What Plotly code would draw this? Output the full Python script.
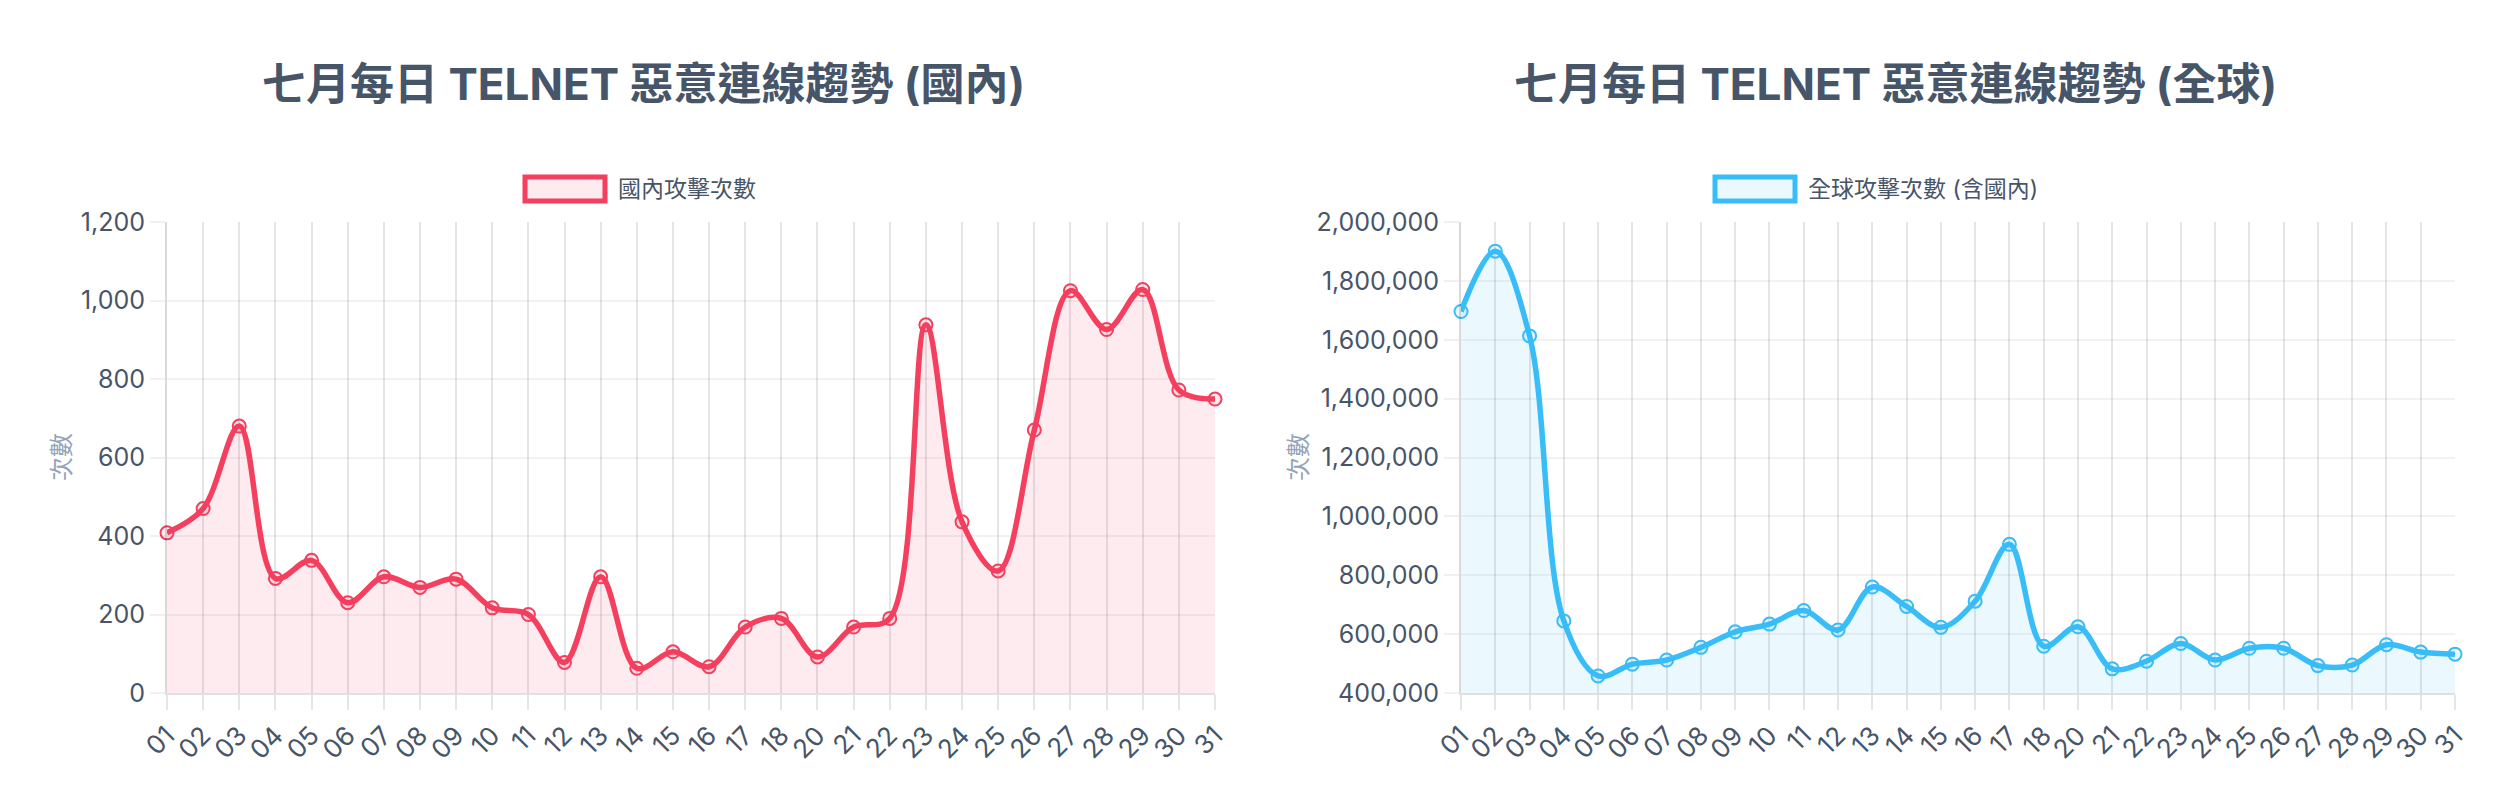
import plotly.graph_objects as go

days = ["01", "02", "03", "04", "05", "06", "07", "08", "09", "10",
        "11", "12", "13", "14", "15", "16", "17", "18", "20", "21",
        "22", "23", "24", "25", "26", "27", "28", "29", "30", "31"]

domestic = [408, 470, 680, 292, 338, 230, 296, 269, 290, 217,
            200, 78, 296, 63, 105, 67, 168, 190, 92, 168,
            190, 938, 436, 311, 670, 1025, 926, 1028, 772, 749]

global_total = [1696000, 1901000, 1613000, 645000, 458000, 498000, 512000, 555000, 608000, 634000,
                680000, 614000, 760000, 694000, 623000, 712000, 905000, 559000, 625000, 482000,
                508000, 568000, 512000, 552000, 552000, 493000, 495000, 564000, 539000, 532000]

title_left = "七月每日 TELNET 惡意連線趨勢 (國內)"
title_right = "七月每日 TELNET 惡意連線趨勢 (全球)"
legend_left = "國內攻擊次數"
legend_right = "全球攻擊次數 (含國內)"
y_title = "次數"

RED = "rgb(244,63,94)"
RED_FILL = "rgba(244,63,94,0.10)"
BLUE = "rgb(56,189,248)"
BLUE_FILL = "rgba(56,189,248,0.10)"
TEXT = "#475569"
MUTED = "#94a3b8"
FONT = "Inter, 'Noto Sans CJK TC', sans-serif"

W, H = 2520, 800

def px(x):
    return x / W

def py(y):
    return 1 - y / H

fig = go.Figure()

fig.add_trace(go.Scatter(
    x=days, y=domestic, xaxis="x", yaxis="y",
    mode="lines+markers", line=dict(color=RED, width=5.5, shape="spline", smoothing=1.0),
    marker=dict(size=13, color=RED_FILL, line=dict(color=RED, width=2)),
    fill="tozeroy", fillcolor=RED_FILL, cliponaxis=False, showlegend=False,
))
fig.add_trace(go.Scatter(
    x=days, y=global_total, xaxis="x2", yaxis="y2",
    mode="lines+markers", line=dict(color=BLUE, width=5.5, shape="spline", smoothing=1.0),
    marker=dict(size=13, color=BLUE_FILL, line=dict(color=BLUE, width=2)),
    fill="tozeroy", fillcolor=BLUE_FILL, cliponaxis=False, showlegend=False,
))

xcommon = dict(
    type="category", range=[0, len(days) - 1], automargin=False,
    showgrid=True, gridcolor="rgba(0,0,0,0.10)",
    gridwidth=1.5, showline=True, linecolor="rgba(0,0,0,0.12)", linewidth=2,
    ticks="outside", ticklen=15, tickcolor="rgba(0,0,0,0.10)", tickwidth=1.5,
    tickangle=-45, tickfont=dict(family=FONT, size=26, color=TEXT), zeroline=False,
)
ycommon = dict(
    automargin=False,
    showgrid=True, gridcolor="rgba(0,0,0,0.05)", gridwidth=2,
    showline=True, linecolor="rgba(0,0,0,0.15)", linewidth=2,
    ticks="outside", ticklen=15, tickcolor="rgba(0,0,0,0.06)", tickwidth=2,
    tickformat=",", tickfont=dict(family=FONT, size=25, color=TEXT), zeroline=False,
)

fig.update_layout(
    width=W, height=H, margin=dict(l=0, r=0, t=0, b=0, autoexpand=False),
    paper_bgcolor="white", plot_bgcolor="white",
    font=dict(family=FONT, color=TEXT),
    showlegend=False,
    xaxis=dict(domain=[px(167), px(1215)], anchor="y", **xcommon),
    yaxis=dict(domain=[py(693), py(222)], anchor="x", range=[0, 1200], dtick=200, **ycommon),
    xaxis2=dict(domain=[px(1461), px(2455)], anchor="y2", **xcommon),
    yaxis2=dict(domain=[py(693), py(222)], anchor="x2", range=[400000, 2000000], dtick=200000, **ycommon),
)

annotations = []
for cx, t in [(643, title_left), (1895, title_right)]:
    annotations.append(dict(x=px(cx), y=py(84), xref="paper", yref="paper", text=f"<b>{t}</b>",
                            showarrow=False, xanchor="center", yanchor="middle",
                            font=dict(family=FONT, size=44, color=TEXT, weight=900)))
for cx, t in [(61, y_title), (1298, y_title)]:
    annotations.append(dict(x=px(cx), y=py(457), xref="paper", yref="paper", text=t, textangle=-90,
                            showarrow=False, xanchor="center", yanchor="middle",
                            font=dict(family=FONT, size=24, color=MUTED)))

shapes = []
for (bx0, bx1, tx, t, col, fillc) in [(525, 605, 616, legend_left, RED, RED_FILL),
                                        (1715, 1795, 1806, legend_right, BLUE, BLUE_FILL)]:
    shapes.append(dict(type="rect", xref="paper", yref="paper", x0=px(bx0), x1=px(bx1),
                       y0=py(201), y1=py(177), line=dict(color=col, width=5), fillcolor=fillc))
    annotations.append(dict(x=px(tx), y=py(189), xref="paper", yref="paper", text=t,
                            showarrow=False, xanchor="left", yanchor="middle",
                            font=dict(family=FONT, size=23, color=TEXT)))

fig.update_layout(annotations=annotations, shapes=shapes)

fig.write_html("out.html", config={"displayModeBar": False},
               post_script="document.body.style.margin='0';")
